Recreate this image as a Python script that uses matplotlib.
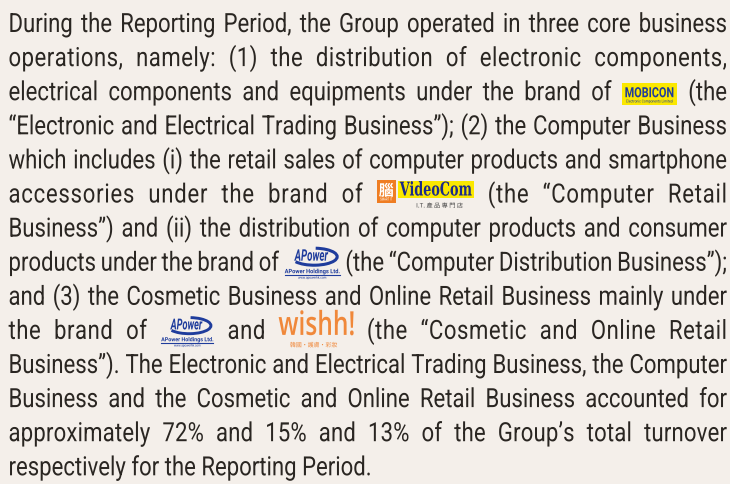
import matplotlib
matplotlib.use('Agg')
import matplotlib.pyplot as plt
from matplotlib.textpath import TextPath
from matplotlib.font_manager import FontProperties, findfont
from matplotlib.ft2font import FT2Font
from matplotlib.patches import PathPatch, Rectangle, Arc
from matplotlib.path import Path
from matplotlib.transforms import Affine2D

W, H = 730, 484
BG = '#f4efea'
INK = '#2a2622'
ORANGE = '#f0883a'
BLUE = '#1f3c9c'
YELLOW = '#fbe800'

# paragraph, one entry per printed line; {..} marks a brand logo
lines = [
    "During the Reporting Period, the Group operated in three core business",
    "operations, namely: (1) the distribution of electronic components,",
    "electrical components and equipments under the brand of {mobicon} (the",
    "\u201cElectronic and Electrical Trading Business\u201d); (2) the Computer Business",
    "which includes (i) the retail sales of computer products and smartphone",
    "accessories under the brand of {videocom} (the \u201cComputer Retail",
    "Business\u201d) and (ii) the distribution of computer products and consumer",
    "products under the brand of {apower} (the \u201cComputer Distribution Business\u201d);",
    "and (3) the Cosmetic Business and Online Retail Business mainly under",
    "the brand of {apower_s} and {wishh} (the \u201cCosmetic and Online Retail",
    "Business\u201d). The Electronic and Electrical Trading Business, the Computer",
    "Business and the Cosmetic and Online Retail Business accounted for",
    "approximately 72% and 15% and 13% of the Group\u2019s total turnover",
    "respectively for the Reporting Period.",
]
logo_w = {'{mobicon}': 56, '{videocom}': 97, '{apower}': 57, '{apower_s}': 54, '{wishh}': 75}

FAM = 'Roboto'
EM = 26.5
LEFT, RIGHT = 8.5, 727
TOP, STEP = 32, 34.1

fig = plt.figure(figsize=(W / 100, H / 100), dpi=100, facecolor=BG)
ax = fig.add_axes([0, 0, 1, 1])
ax.set_xlim(0, W)
ax.set_ylim(H, 0)
ax.axis('off')

prop = FontProperties(family=FAM, size=EM)
ft = FT2Font(findfont(prop))
ft.set_size(EM, 72)
_adv = {}
_paths = {}


def adv(c):
    if c not in _adv:
        g = ft.load_char(ord(c))
        _adv[c] = g.linearHoriAdvance / 65536
    return _adv[c]


def char_path(c):
    if c not in _paths:
        _paths[c] = TextPath((0, 0), c, size=EM, prop=prop)
    return _paths[c]


def put(s, x, y, size, width=None, sx=1.0, color=INK, family=FAM,
        weight='normal', style='normal', ha='left'):
    p = TextPath((0, 0), s, size=size,
                 prop=FontProperties(family=family, weight=weight, style=style))
    ext = p.get_extents()
    if width:
        sx = width / ext.width
    if ha == 'center':
        x0 = x - (ext.x0 + ext.width / 2) * sx
    else:
        x0 = x - ext.x0 * sx
    tr = Affine2D().scale(sx, -1).translate(x0, y) + ax.transData
    ax.add_patch(PathPatch(p, transform=tr, fc=color, lw=0))


def mobicon(x, b):
    ax.add_patch(Rectangle((x, b - 17), 55, 22, fc=YELLOW, lw=0))
    put('MOBICON', x + 27.5, b - 3, 14, width=48, color=BLUE, weight='bold', ha='center')
    put('Electronic Components Limited', x + 27.5, b + 2.3, 4, width=46, color=BLUE, ha='center')


def videocom(x, b):
    ax.add_patch(Rectangle((x, b - 23), 19, 23, fc='#ef7d22', lw=0))
    put('\u8166', x + 9.5, b - 7, 15, color='white', family='Noto Sans CJK TC',
        weight='bold', ha='center')
    put('SMART IT', x + 9.5, b - 2, 4, width=12, color='white', ha='center')
    ax.add_patch(Rectangle((x + 21, b - 21.5), 76, 17, fc=YELLOW, lw=0))
    put('VideoCom', x + 59, b - 7, 19, width=72, color='#1b2a8a',
        family='DejaVu Serif', weight='bold', ha='center')
    put('I.T. \u7522 \u54c1 \u5c08 \u9580 \u5e97', x + 63, b + 5, 6, width=46,
        color='#444444', family='Noto Sans CJK TC', ha='center')


def apower(x, b, w):
    k = w / 57
    cx = x + 28.5 * k
    ax.add_patch(Arc((cx + 2 * k, b - 14 * k), 46 * k, 17 * k, theta1=-80, theta2=165,
                     color=BLUE, lw=2.2 * k))
    put('APower', cx - 1 * k, b - 10 * k, 16 * k, width=34 * k, color=BLUE,
        weight='bold', style='italic', ha='center')
    put('APower Holdings Ltd.', cx, b + 2.5 * k, 6 * k, width=55 * k, color=BLUE,
        weight='bold', ha='center')
    ax.plot([x + 1 * k, x + 56 * k], [b + 4.5 * k, b + 4.5 * k], color=BLUE, lw=0.8)
    put('www.apowerhk.com', cx, b + 8 * k, 3.5 * k, width=28 * k, color=BLUE, ha='center')


def wishh(x, b):
    put('wishh!', x + 37.5, b - 4, 33, width=75, color=ORANGE, family='Open Sans',
        weight='semibold', ha='center')
    put('\u97d3\u570b\u30fb\u8b77\u819a\u30fb\u5f69\u599d', x + 35, b + 8, 6, width=47,
        color=ORANGE, family='Noto Sans CJK TC', ha='center')


def draw_logo(tag, x, b):
    if tag == '{mobicon}':
        mobicon(x, b)
    elif tag == '{videocom}':
        videocom(x, b)
    elif tag in ('{apower}', '{apower_s}'):
        apower(x, b, logo_w[tag])
    elif tag == '{wishh}':
        wishh(x, b)


def text_w(t):
    return sum(adv(c) for c in t)


sp = adv(' ')
# horizontal squeeze: the tightest full line still keeps 0.85 of a space between words
SX = 10.0
for line in lines[:-1]:
    tokens = line.split(' ')
    tw = sum(text_w(t) for t in tokens if t not in logo_w)
    lw_ = sum(logo_w[t] for t in tokens if t in logo_w)
    SX = min(SX, (RIGHT - LEFT - lw_) / (tw + (len(tokens) - 1) * 0.85 * sp))

for i, line in enumerate(lines):
    b = TOP + i * STEP
    tokens = line.split(' ')
    widths = [logo_w[t] / SX if t in logo_w else text_w(t) for t in tokens]
    n = len(tokens)
    gap, ls = sp, 0.0
    if i < len(lines) - 1:
        extra = (RIGHT - LEFT) / SX - sum(widths) - (n - 1) * sp
        nl = sum(len(t) - 1 for t in tokens if t not in logo_w)
        if extra / (n - 1) <= 1.1 * sp:
            gap = sp + extra / (n - 1)
        else:
            extra2 = extra - 1.1 * sp * (n - 1)
            unit = extra2 / ((n - 1) + 0.3 * nl)
            gap = 2.1 * sp + unit
            ls = 0.3 * unit
    x = 0.0
    parts = []
    for t, w in zip(tokens, widths):
        if t in logo_w:
            draw_logo(t, LEFT + x * SX, b)
            x += w
        else:
            for c in t:
                p = char_path(c)
                if len(p.vertices):
                    parts.append(Path(p.vertices + [x, 0], p.codes))
                x += adv(c) + ls
            x -= ls
        x += gap
    cp = Path.make_compound_path(*parts)
    tr = Affine2D().scale(SX, -1).translate(LEFT, b) + ax.transData
    ax.add_patch(PathPatch(cp, transform=tr, fc=INK, lw=0))

fig.savefig('out.png', dpi=100, facecolor=BG)
